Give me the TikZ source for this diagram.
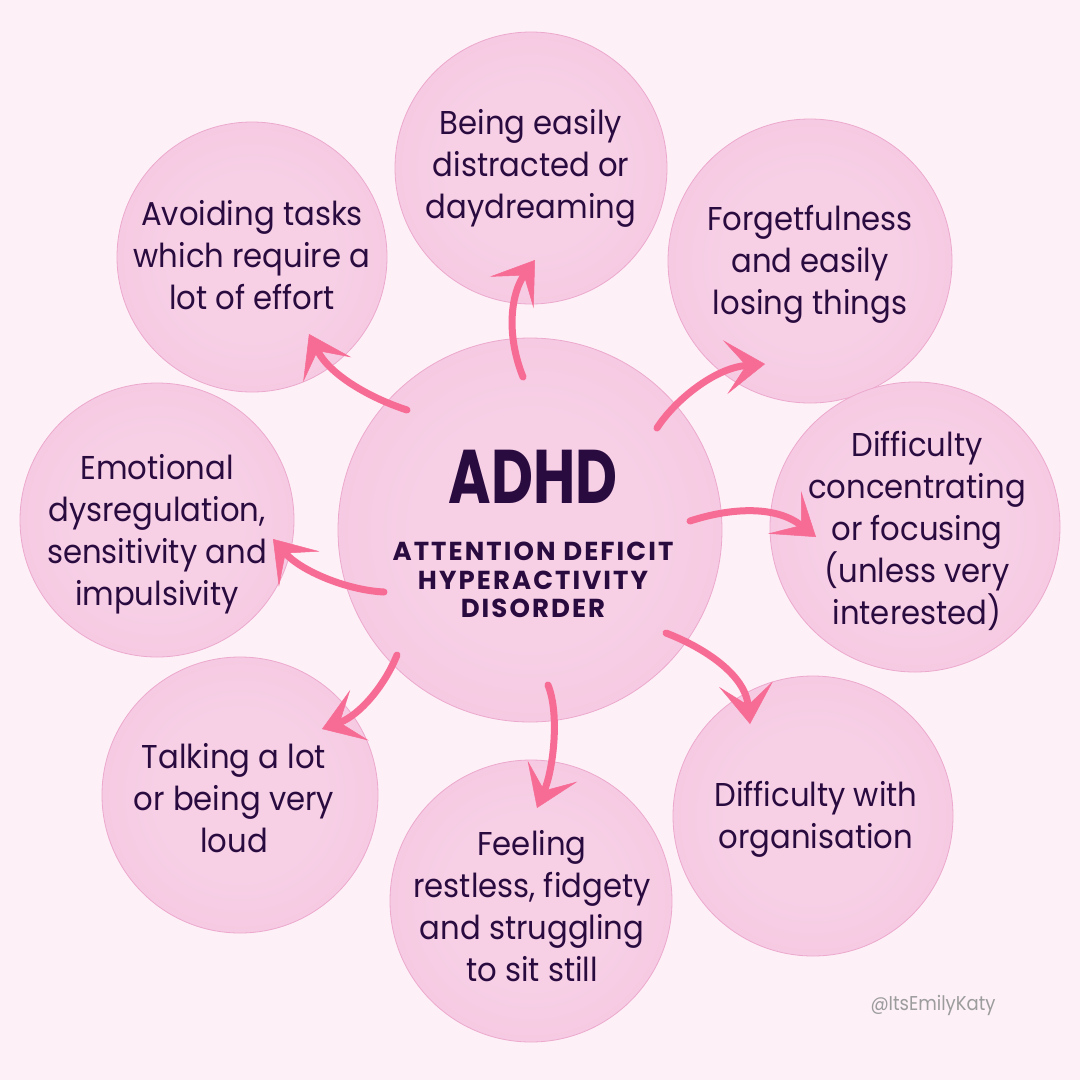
\documentclass[tikz,border=0pt]{standalone}
\usepackage{fontspec}
\setmainfont{Poppins}[FakeStretch=0.93]
\newfontfamily\handf{Poppins}[FakeStretch=0.76]
\newfontfamily\subf{Poppins}[LetterSpace=8]
\newfontfamily\markf{Poppins}[FakeStretch=0.9]
\usetikzlibrary{arrows.meta}
\definecolor{bg}{HTML}{FDF0F7}
\definecolor{ink}{HTML}{2A0B40}
\definecolor{arrc}{HTML}{F76C95}
\definecolor{wcin}{HTML}{F7D0E6}
\definecolor{wcmid}{HTML}{F3C1DC}
\definecolor{wcout}{HTML}{EFB3D4}
\definecolor{wcedge}{HTML}{EDA9CD}
\definecolor{markc}{HTML}{9C9C9C}
\pgfdeclareradialshading{wc}{\pgfpoint{0bp}{0bp}}{color(0bp)=(wcin); color(15bp)=(wcin); color(40bp)=(wcmid); color(50bp)=(wcout)}
\tikzset{
  bubble/.style={circle, shading=wc, draw=wcedge, line width=0.8pt, inner sep=0pt},
  lbl/.style={align=center, text=ink, inner sep=0pt, font=\fontsize{33}{42}\selectfont},
  arr/.style={draw=arrc, line width=7pt, line cap=round,
    -{Stealth[length=40pt, width=54pt, inset=21pt, line width=0.5pt]}},
}
\begin{document}
\begin{tikzpicture}[x=1pt, y=-1pt]
\fill[bg] (0,0) rectangle (1080,1080);
\useasboundingbox (0,0) rectangle (1080,1080);

% bubbles
\node[bubble, minimum size=272pt] (top) at (531,168) {};
\node[bubble, minimum size=270pt] (tl) at (252,257) {};
\node[bubble, minimum size=284pt] (tr) at (810,261) {};
\node[bubble, minimum size=274pt] (lf) at (157,520) {};
\node[bubble, minimum size=290pt] (rt) at (915,527) {};
\node[bubble, minimum size=276pt] (bl) at (240,795) {};
\node[bubble, minimum size=280pt] (br) at (813,816) {};
\node[bubble, minimum size=282pt] (bt) at (531,901) {};
\node[bubble, minimum size=384pt] (c) at (530,530) {};

% labels
\node[lbl] (topt) at (531,168) {Being easily\\distracted or\\daydreaming};
\node[lbl] (tlt) at (252,255) {Avoiding tasks\\which require a\\lot of effort};
\node[lbl] (trt) at (810,264) {Forgetfulness\\and easily\\losing things};
\node[lbl] (lft) at (157,534) {Emotional\\dysregulation,\\sensitivity and\\impulsivity};
\node[lbl] (rtt) at (917,531) {Difficulty\\concentrating\\or focusing\\(unless very\\interested)};
\node[lbl] (blt) at (234,798) {Talking a lot\\or being very\\loud};
\node[lbl] (brt) at (816,819) {Difficulty with\\organisation};
\node[lbl] (btt) at (532,906) {Feeling\\restless, fidgety\\and struggling\\to sit still};

% centre text
\node[text=ink, inner sep=0pt, anchor=base, font=\handf\bfseries\fontsize{76}{76}\selectfont] (adhd) at (533,503) {ADHD};
\node[text=ink, inner sep=0pt, align=center, font=\subf\bfseries\fontsize{26}{28.5}\selectfont] (sub) at (533,580) {ATTENTION DEFICIT\\HYPERACTIVITY\\DISORDER};

% watermark
\node[text=markc, inner sep=0pt, anchor=base, font=\markf\fontsize{20}{20}\selectfont] (mark) at (933,1010) {@ItsEmilyKaty};

% arrow end points
\coordinate (a1) at (523,377); \coordinate (b1) at (535,260);
\coordinate (a2) at (407,410); \coordinate (b2) at (309,334);
\coordinate (a3) at (657,428); \coordinate (b3) at (765,364);
\coordinate (a4) at (690,521); \coordinate (b4) at (816,537);
\coordinate (a5) at (666,633); \coordinate (b5) at (750,724);
\coordinate (a6) at (548,685); \coordinate (b6) at (537,808);
\coordinate (a7) at (397,655); \coordinate (b7) at (322,729);
\coordinate (a8) at (384,592); \coordinate (b8) at (273,539);

\draw[arr] (a1) .. controls (505,332) and (512,292) .. (b1);
\draw[arr] (a2) .. controls (370,398) and (330,375) .. (b2);
\draw[arr] (a3) .. controls (675,400) and (715,368) .. (b3);
\draw[arr] (a4) .. controls (730,508) and (775,505) .. (b4);
\draw[arr] (a5) .. controls (705,648) and (745,675) .. (b5);
\draw[arr] (a6) .. controls (560,715) and (553,770) .. (b6);
\draw[arr] (a7) .. controls (385,685) and (360,715) .. (b7);
\draw[arr] (a8) .. controls (345,590) and (300,570) .. (b8);
\end{tikzpicture}
\end{document}
